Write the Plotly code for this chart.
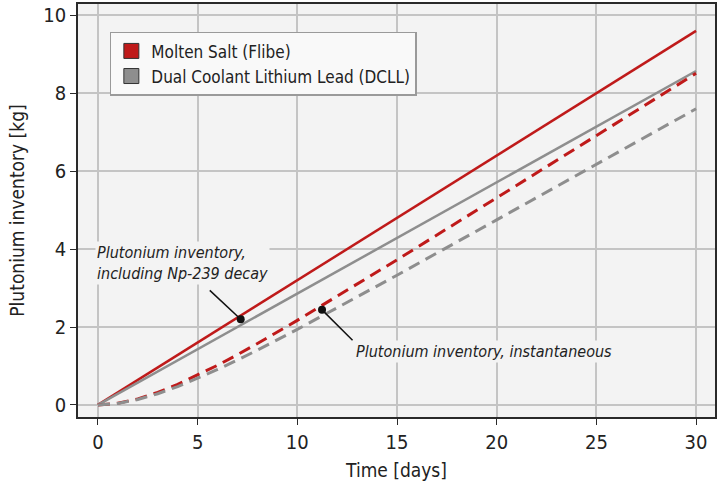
import plotly.graph_objects as go

# ---- data ----
t_solid = [0, 5, 10, 15, 20, 25, 30]
flibe_total = [0, 1.60, 3.20, 4.80, 6.40, 8.00, 9.60]
dcll_total = [0, 1.43, 2.86, 4.29, 5.71, 7.14, 8.57]

t_inst = [0, 1, 2, 3, 4, 5, 6, 7, 8, 10, 12, 15, 20, 25, 30]
flibe_inst = [0, 0.043, 0.156, 0.322, 0.527, 0.762, 1.018, 1.291, 1.575,
              2.170, 2.784, 3.725, 5.315, 6.912, 8.51]
dcll_inst = [0, 0.038, 0.140, 0.288, 0.471, 0.681, 0.910, 1.154, 1.408,
             1.939, 2.488, 3.329, 4.750, 6.178, 7.60]

series_names = ["Molten Salt (Flibe)", "Dual Coolant Lithium Lead (DCLL)"]
x_ticks = [0, 5, 10, 15, 20, 25, 30]
y_ticks = [0, 2, 4, 6, 8, 10]

label_total = "Plutonium inventory,<br>including Np-239 decay"
label_inst = "Plutonium inventory, instantaneous"

RED = "#bf1a1a"
GREY = "#8e8e8e"
FONT = "DejaVu Sans Condensed, DejaVu Sans, sans-serif"
PLOT_BG = "#f3f3f3"

fig = go.Figure()
fig.add_trace(go.Scatter(x=t_solid, y=flibe_total, mode="lines",
                         line=dict(color=RED, width=2.5), showlegend=False))
fig.add_trace(go.Scatter(x=t_solid, y=dcll_total, mode="lines",
                         line=dict(color=GREY, width=2.5), showlegend=False))
fig.add_trace(go.Scatter(x=t_inst, y=flibe_inst, mode="lines",
                         line=dict(color=RED, width=3, dash="12px,7px"), showlegend=False))
fig.add_trace(go.Scatter(x=t_inst, y=dcll_inst, mode="lines",
                         line=dict(color=GREY, width=3, dash="12px,7px"), showlegend=False))

# legend entries as square patches
for name, col in zip(series_names, [RED, GREY]):
    fig.add_trace(go.Scatter(x=[None], y=[None], mode="markers", name=name,
                             marker=dict(symbol="square", size=15, color=col,
                                         line=dict(color="#333333", width=1))))

# annotation connectors + dots
fig.add_shape(type="line", x0=5.61, y0=2.94, x1=7.16, y1=2.20,
              line=dict(color="#111111", width=1.5))
fig.add_shape(type="line", x0=12.77, y0=1.66, x1=11.24, y1=2.44,
              line=dict(color="#111111", width=1.5))
fig.add_trace(go.Scatter(x=[7.16, 11.24], y=[2.20, 2.44], mode="markers",
                         marker=dict(color="#111111", size=8), showlegend=False))

fig.add_annotation(x=-0.15, y=3.65, xref="x", yref="y", text=label_total,
                   showarrow=False, xanchor="left", yanchor="middle", align="left",
                   font=dict(family=FONT, size=16, color="#222222", style="italic"),
                   bgcolor=PLOT_BG, borderpad=1)
fig.add_annotation(x=12.82, y=1.38, xref="x", yref="y", text=label_inst,
                   showarrow=False, xanchor="left", yanchor="middle", align="left",
                   font=dict(family=FONT, size=16, color="#222222", style="italic"),
                   bgcolor=PLOT_BG, borderpad=1)

axis_common = dict(showgrid=True, gridcolor="#c4c4c4", gridwidth=1.5,
                   zeroline=False, showline=True, linecolor="#2a2a2a", linewidth=1.5,
                   mirror=True, ticks="outside", ticklen=6, tickwidth=1.2,
                   tickcolor="#2a2a2a",
                   tickfont=dict(family=FONT, size=20, color="#222222"),
                   title_font=dict(family=FONT, size=19, color="#222222"))

fig.update_xaxes(range=[-1.0, 30.95], tickvals=x_ticks, title_text="Time [days]",
                 title_standoff=12, **axis_common)
fig.update_yaxes(range=[-0.31, 10.29], tickvals=y_ticks, title_text="Plutonium inventory [kg]",
                 title_standoff=14, **axis_common)

fig.update_layout(
    width=719, height=481,
    margin=dict(l=78, r=3, t=2, b=64),
    paper_bgcolor="white", plot_bgcolor=PLOT_BG,
    font=dict(family=FONT, color="#222222"),
    legend=dict(x=0.05, y=0.9325, xanchor="left", yanchor="top",
                bgcolor="#f9f9f9", bordercolor="#9a9a9a", borderwidth=1.5,
                font=dict(family=FONT, size=17, color="#222222"),
                itemwidth=30, tracegroupgap=0),
)

fig.write_html("out.html")
